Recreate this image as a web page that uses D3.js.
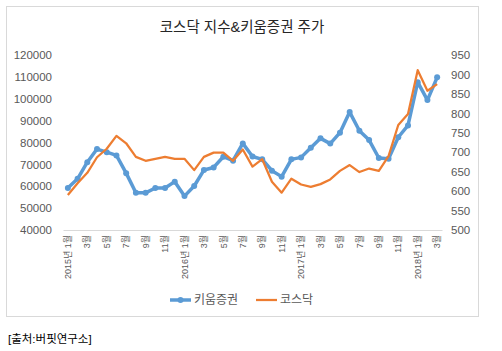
<!DOCTYPE html>
<html>
<head>
<meta charset="utf-8">
<script src="https://cdn.jsdelivr.net/npm/d3@7"></script>
<style>
  body { margin: 0; background: #fff; }
  text { font-family: "Liberation Sans", "Noto Sans CJK KR", sans-serif; }
</style>
</head>
<body>
<svg id="chart" width="502" height="351"></svg>
<script>
// months 2015-01 .. 2018-03
var months = [];
for (var y = 2015; y <= 2018; y++) {
  for (var m = 1; m <= 12; m++) {
    if (y === 2018 && m > 3) break;
    months.push(y + "-" + m);
  }
}

// 키움증권 share price (left axis, won)
var kiwoom = [59200, 63400, 71000, 77000, 75600, 74100, 66000, 57000, 57000, 59200,
  59200, 62100, 55500, 60100, 67400, 68600, 73500, 71700, 79600, 73600,
  72300, 67100, 64400, 72300, 73200, 77600, 81900, 79500, 84500, 93900,
  85400, 81100, 72900, 72600, 82400, 87800, 107600, 99400, 109800];

// 코스닥 index (right axis)
var kosdaq = [590, 620, 647, 687, 709, 742, 723, 688, 678, 683,
  688, 683, 683, 654, 688, 699, 699, 678, 707, 663,
  682, 624, 596, 632, 617, 611, 618, 630, 652, 667,
  649, 658, 652, 690, 770, 798, 911, 858, 875];

var leftTicks = d3.range(40000, 120001, 10000);
var rightTicks = d3.range(500, 951, 50);

var svg = d3.select("#chart");

// chart frame
svg.append("rect")
  .attr("x", 6.5).attr("y", 6.5)
  .attr("width", 472).attr("height", 310)
  .attr("fill", "#fff")
  .attr("stroke", "#d9d9d9");

// title
svg.append("text")
  .attr("x", 242).attr("y", 32)
  .attr("text-anchor", "middle")
  .attr("font-size", 14.5)
  .attr("fill", "#262626")
  .text("코스닥 지수&키움증권 주가");

var x = d3.scaleBand()
  .domain(months)
  .range([63, 442]);

var yL = d3.scaleLinear().domain([40000, 120000]).range([230, 55]);
var yR = d3.scaleLinear().domain([500, 950]).range([230, 55]);

function cx(i) { return x(months[i]) + x.bandwidth() / 2; }

// left axis labels
var leftAxis = d3.axisLeft(yL).tickValues(leftTicks)
  .tickFormat(d3.format("d")).tickSize(0).tickPadding(0);
svg.append("g")
  .attr("transform", "translate(52,0)")
  .call(leftAxis)
  .call(g => g.select(".domain").remove());

// right axis labels
var rightAxis = d3.axisRight(yR).tickValues(rightTicks)
  .tickFormat(d3.format("d")).tickSize(0).tickPadding(0);
svg.append("g")
  .attr("transform", "translate(451,0)")
  .call(rightAxis)
  .call(g => g.select(".domain").remove());

svg.selectAll(".tick text")
  .attr("font-size", 11.5)
  .attr("fill", "#595959")
  .style("font-family", "Liberation Sans, sans-serif");

// x axis line and labels (every second month)
var xAxis = d3.axisBottom(x)
  .tickValues(months.filter((d, i) => i % 2 === 0))
  .tickSize(0)
  .tickFormat(function (d) {
    var p = d.split("-");
    return p[1] === "1" ? p[0] + "년 1월" : p[1] + "월";
  });

var gx = svg.append("g")
  .attr("transform", "translate(0,230)")
  .call(xAxis);
gx.select(".domain").attr("stroke", "#d9d9d9").attr("stroke-width", 1);
gx.selectAll(".tick text")
  .attr("transform", "rotate(-90)")
  .attr("text-anchor", "end")
  .attr("x", -5)
  .attr("y", 0)
  .attr("dy", "0.35em")
  .attr("font-size", 9)
  .attr("fill", "#595959");

// 키움증권 line with markers
var lineL = d3.line()
  .x((d, i) => cx(i))
  .y(d => yL(d));

svg.append("path")
  .datum(kiwoom)
  .attr("fill", "none")
  .attr("stroke", "#5b9bd5")
  .attr("stroke-width", 3.5)
  .attr("stroke-linejoin", "round")
  .attr("d", lineL);

svg.selectAll(".dot")
  .data(kiwoom)
  .enter().append("circle")
  .attr("cx", (d, i) => cx(i))
  .attr("cy", d => yL(d))
  .attr("r", 3)
  .attr("fill", "#5b9bd5");

// 코스닥 line
var lineR = d3.line()
  .x((d, i) => cx(i))
  .y(d => yR(d));

svg.append("path")
  .datum(kosdaq)
  .attr("fill", "none")
  .attr("stroke", "#ed7d31")
  .attr("stroke-width", 2.25)
  .attr("stroke-linejoin", "round")
  .attr("d", lineR);

// legend
var legend = svg.append("g").attr("transform", "translate(0,300)");
legend.append("line")
  .attr("x1", 170).attr("x2", 191)
  .attr("stroke", "#5b9bd5").attr("stroke-width", 3.5);
legend.append("circle")
  .attr("cx", 180.5).attr("r", 3).attr("fill", "#5b9bd5");
legend.append("text")
  .attr("x", 194).attr("dy", "0.35em")
  .attr("font-size", 12).attr("fill", "#595959")
  .text("키움증권");
legend.append("line")
  .attr("x1", 256).attr("x2", 277)
  .attr("stroke", "#ed7d31").attr("stroke-width", 2.25);
legend.append("text")
  .attr("x", 280).attr("dy", "0.35em")
  .attr("font-size", 12).attr("fill", "#595959")
  .text("코스닥");

// source note
svg.append("text")
  .attr("x", 8).attr("y", 343)
  .attr("font-size", 11.5)
  .attr("fill", "#000")
  .text("[출처:버핏연구소]");
</script>
</body>
</html>
